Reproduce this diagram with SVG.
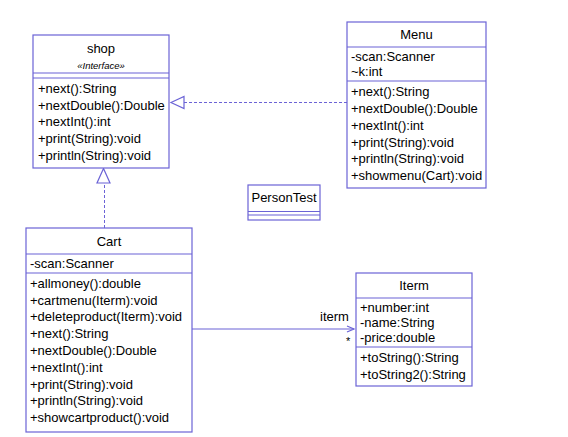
<svg xmlns="http://www.w3.org/2000/svg" width="568" height="437" viewBox="0 0 568 437">
<style>
.box{fill:#fff;stroke:#6b63d6;stroke-width:1.2}
.ln{stroke:#6b63d6;stroke-width:1.2;fill:none}
.dash{stroke:#6b63d6;stroke-width:1;fill:none;stroke-dasharray:3,2}
.t{font-family:"Liberation Sans",Arial,sans-serif;font-size:13px;fill:#000;dominant-baseline:central}
.c{text-anchor:middle}
.i{font-style:italic;font-size:9.5px}
</style>
<rect width="568" height="437" fill="#fff"/>
<g id="connectors">
<path class="dash" d="M347,102.5 H184"/>
<path class="ln" d="M171,102.5 L184,96.5 L184,108.5 Z" fill="#fff"/>
<path class="dash" d="M104.5,228 V183"/>
<path class="ln" d="M103.5,168.5 L97,183 L110,183 Z" fill="#fff"/>
<path class="ln" d="M192,329 H354"/>
<path class="ln" d="M347,326 L354,329 L347,332"/>
<text class="t" x="320" y="316">iterm</text>
<text class="t" x="346" y="341" style="font-size:11px">*</text>
</g>
<g id="shop">
<rect class="box" x="33" y="35" width="136" height="133"/>
<line class="ln" x1="33" y1="73" x2="169" y2="73"/>
<line class="ln" x1="33" y1="78" x2="169" y2="78"/>
<text class="t c" x="101" y="48">shop</text>
<text class="t c i" x="101" y="65">«Interface»</text>
<text class="t" x="38" y="88">+next():String</text>
<text class="t" x="38" y="105">+nextDouble():Double</text>
<text class="t" x="38" y="121">+nextInt():int</text>
<text class="t" x="38" y="138">+print(String):void</text>
<text class="t" x="38" y="155">+println(String):void</text>
</g>
<g id="Menu">
<rect class="box" x="347" y="22" width="139" height="166"/>
<line class="ln" x1="347" y1="47" x2="486" y2="47"/>
<line class="ln" x1="347" y1="81" x2="486" y2="81"/>
<text class="t c" x="416.5" y="34">Menu</text>
<text class="t" x="351" y="56">-scan:Scanner</text>
<text class="t" x="351" y="71">~k:int</text>
<text class="t" x="351" y="91">+next():String</text>
<text class="t" x="351" y="108">+nextDouble():Double</text>
<text class="t" x="351" y="125">+nextInt():int</text>
<text class="t" x="351" y="142">+print(String):void</text>
<text class="t" x="351" y="158">+println(String):void</text>
<text class="t" x="351" y="175">+showmenu(Cart):void</text>
</g>
<g id="PersonTest">
<rect class="box" x="248" y="185" width="72" height="35"/>
<line class="ln" x1="248" y1="211.5" x2="320" y2="211.5"/>
<line class="ln" x1="248" y1="215" x2="320" y2="215"/>
<text class="t c" x="284" y="197.5">PersonTest</text>
</g>
<g id="Cart">
<rect class="box" x="26" y="228" width="166" height="204"/>
<line class="ln" x1="26" y1="254" x2="192" y2="254"/>
<line class="ln" x1="26" y1="273" x2="192" y2="273"/>
<text class="t c" x="109" y="241">Cart</text>
<text class="t" x="30" y="263">-scan:Scanner</text>
<text class="t" x="30" y="283">+allmoney():double</text>
<text class="t" x="30" y="300">+cartmenu(Iterm):void</text>
<text class="t" x="30" y="316">+deleteproduct(Iterm):void</text>
<text class="t" x="30" y="333">+next():String</text>
<text class="t" x="30" y="350">+nextDouble():Double</text>
<text class="t" x="30" y="367">+nextInt():int</text>
<text class="t" x="30" y="384">+print(String):void</text>
<text class="t" x="30" y="400">+println(String):void</text>
<text class="t" x="30" y="417">+showcartproduct():void</text>
</g>
<g id="Iterm">
<rect class="box" x="356" y="273" width="116" height="113"/>
<line class="ln" x1="356" y1="298" x2="472" y2="298"/>
<line class="ln" x1="356" y1="347" x2="472" y2="347"/>
<text class="t c" x="414" y="285">Iterm</text>
<text class="t" x="360" y="307">+number:int</text>
<text class="t" x="360" y="322">-name:String</text>
<text class="t" x="360" y="337">-price:double</text>
<text class="t" x="360" y="357">+toString():String</text>
<text class="t" x="360" y="374">+toString2():String</text>
</g>
</svg>
